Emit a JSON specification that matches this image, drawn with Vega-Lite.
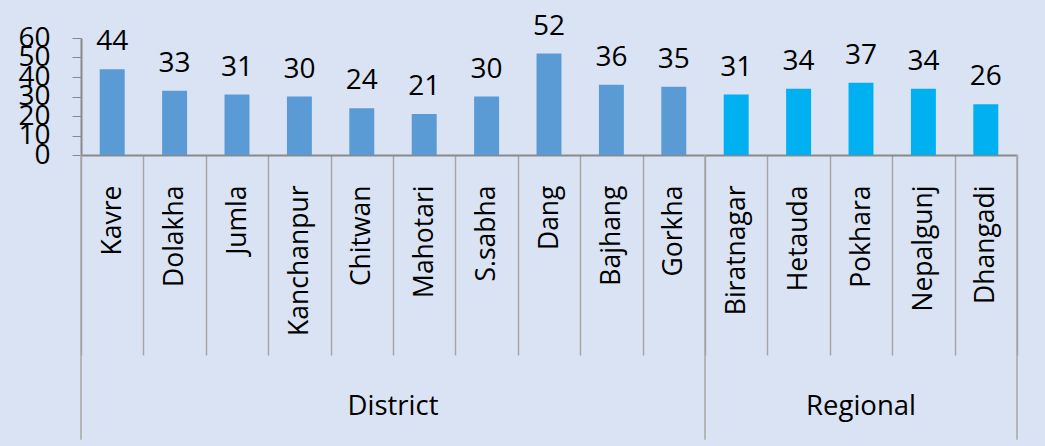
{
  "$schema": "https://vega.github.io/schema/vega-lite/v6.json",
  "width": 936,
  "height": 117,
  "autosize": "none",
  "padding": {"left": 81, "top": 38, "right": 28, "bottom": 291},
  "background": "#dae3f3",
  "config": {"view": {"stroke": null}, "font": "Open Sans"},
  "data": {"values": [
    {"cat": "Kavre", "group": "District", "value": 44},
    {"cat": "Dolakha", "group": "District", "value": 33},
    {"cat": "Jumla", "group": "District", "value": 31},
    {"cat": "Kanchanpur", "group": "District", "value": 30},
    {"cat": "Chitwan", "group": "District", "value": 24},
    {"cat": "Mahotari", "group": "District", "value": 21},
    {"cat": "S.sabha", "group": "District", "value": 30},
    {"cat": "Dang", "group": "District", "value": 52},
    {"cat": "Bajhang", "group": "District", "value": 36},
    {"cat": "Gorkha", "group": "District", "value": 35},
    {"cat": "Biratnagar", "group": "Regional", "value": 31},
    {"cat": "Hetauda", "group": "Regional", "value": 34},
    {"cat": "Pokhara", "group": "Regional", "value": 37},
    {"cat": "Nepalgunj", "group": "Regional", "value": 34},
    {"cat": "Dhangadi", "group": "Regional", "value": 26}
  ]},
  "encoding": {
    "x": {
      "field": "cat", "type": "nominal",
      "scale": {"domain": ["Kavre","Dolakha","Jumla","Kanchanpur","Chitwan","Mahotari","S.sabha","Dang","Bajhang","Gorkha","Biratnagar","Hetauda","Pokhara","Nepalgunj","Dhangadi"], "paddingInner": 0, "paddingOuter": 0},
      "axis": {
        "title": null, "labelAngle": -90, "labelAlign": "right", "labelBaseline": "middle",
        "labelFontSize": 26.5, "labelFont": "Open Sans", "labelColor": "#000000",
        "tickBand": "extent", "tickSize": 200, "tickColor": "#a6a6a6", "tickWidth": 1.5,
        "domainColor": "#898989", "domainWidth": 2, "labelPadding": -170
      }
    },
    "y": {
      "type": "quantitative",
      "scale": {"domain": [0, 60], "nice": false},
      "axis": {
        "title": null, "values": [0,10,20,30,40,50,60], "labelFontSize": 28, "labelFont": "Open Sans",
        "labelColor": "#000000", "labelPadding": 22, "tickSize": 9, "tickColor": "#898989",
        "domainColor": "#898989", "domainWidth": 2, "grid": false, "labelOverlap": false,
        "labelFlush": false, "labelBound": false
      }
    }
  },
  "layer": [
    {
      "mark": {"type": "bar", "width": {"band": 0.4}},
      "encoding": {
        "y": {"field": "value", "type": "quantitative"},
        "color": {"field": "group", "type": "nominal", "scale": {"domain": ["District", "Regional"], "range": ["#5b9bd5", "#00b0f0"]}, "legend": null}
      }
    },
    {
      "mark": {"type": "text", "baseline": "bottom", "dy": -13, "fontSize": 28, "font": "Open Sans", "color": "#000000"},
      "encoding": {
        "y": {"field": "value", "type": "quantitative"},
        "text": {"field": "value", "type": "quantitative"}
      }
    },
    {
      "data": {"values": [{"cat": "Kavre"}, {"cat": "Biratnagar"}]},
      "mark": {"type": "rule", "color": "#a6a6a6", "strokeWidth": 1.5},
      "encoding": {
        "x": {"field": "cat", "type": "nominal", "bandPosition": 0},
        "y": {"datum": 0},
        "y2": {"datum": -146}
      }
    },
    {
      "data": {"values": [{"cat": "Dhangadi"}]},
      "mark": {"type": "rule", "color": "#a6a6a6", "strokeWidth": 1.5},
      "encoding": {
        "x": {"field": "cat", "type": "nominal", "bandPosition": 1},
        "y": {"datum": 0},
        "y2": {"datum": -146}
      }
    },
    {
      "data": {"values": [{"label": "District", "cat": "Mahotari"}]},
      "mark": {"type": "text", "fontSize": 27.5, "font": "Open Sans", "color": "#000000", "baseline": "middle"},
      "encoding": {
        "x": {"field": "cat", "type": "nominal", "bandPosition": 0},
        "y": {"datum": -129},
        "text": {"field": "label"}
      }
    },
    {
      "data": {"values": [{"label": "Regional", "cat": "Pokhara"}]},
      "mark": {"type": "text", "fontSize": 27.5, "font": "Open Sans", "color": "#000000", "baseline": "middle"},
      "encoding": {
        "x": {"field": "cat", "type": "nominal", "bandPosition": 0.5},
        "y": {"datum": -129},
        "text": {"field": "label"}
      }
    }
  ]
}
